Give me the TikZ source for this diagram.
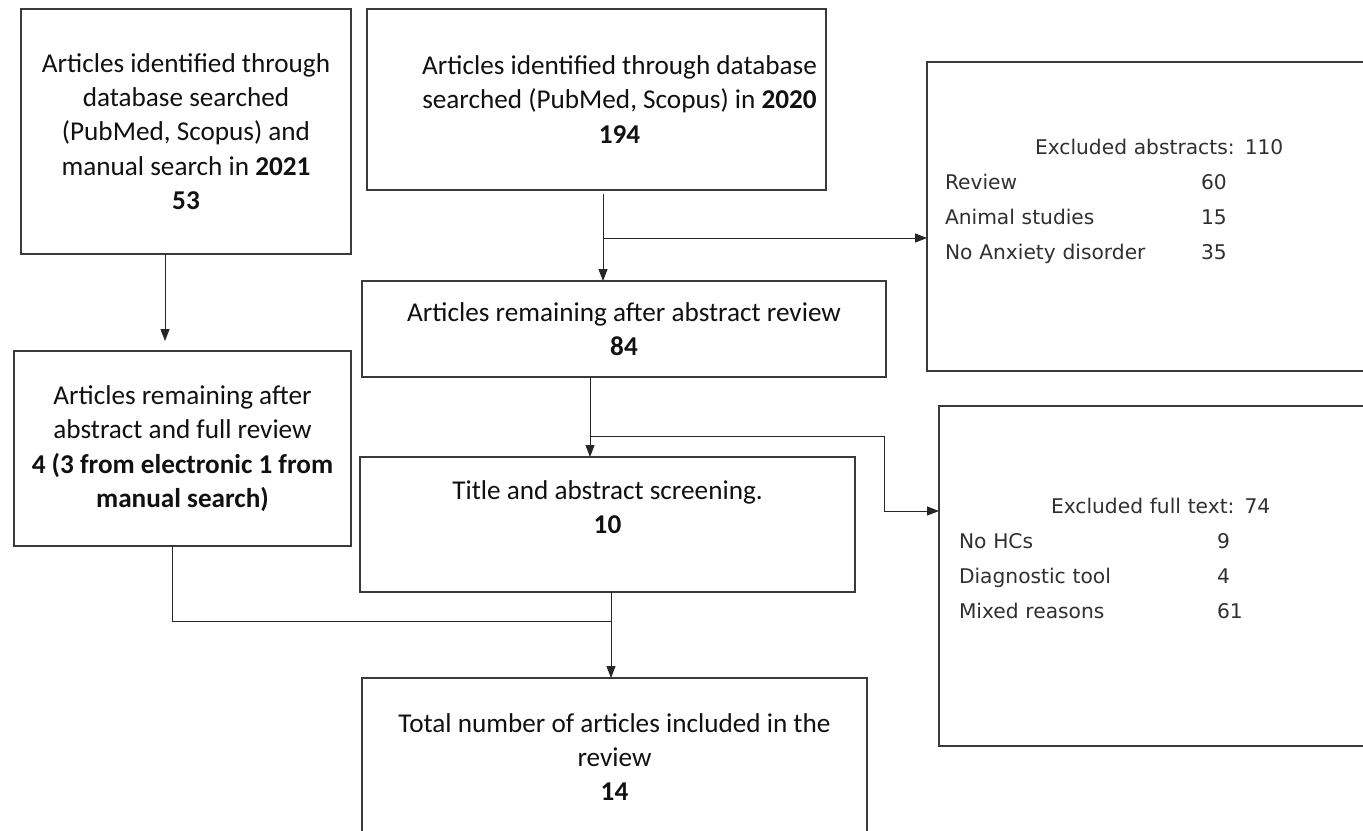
\documentclass[tikz,border=0pt]{standalone}
\usepackage{fontspec}
\usepackage{tikz}
\usepackage{xcolor}
\usetikzlibrary{arrows.meta}
\setmainfont{Carlito}
\newfontfamily\exFont{DejaVu Sans}
\definecolor{boxColor}{HTML}{3A3A3A}
\definecolor{linkColor}{HTML}{262626}
\definecolor{textColor}{HTML}{111111}
\definecolor{exTextColor}{HTML}{303030}
\def\textA{Articles identified through\\database searched\\(PubMed, Scopus) and\\manual search in \textbf{2021}\\\textbf{53}}
\def\textB{\hspace*{46bp}Articles identified through database\\\hspace*{46bp}searched (PubMed, Scopus) in \textbf{2020}\\\hspace*{46bp}\textbf{194}}
\def\textC{\hspace*{90bp}Excluded abstracts: 110\\
\makebox[256bp][l]{Review}60\\
\makebox[256bp][l]{Animal studies}15\\
\makebox[256bp][l]{No Anxiety disorder}35\\~}
\def\textD{\hspace*{92bp}Excluded full text: 74\\
\makebox[258bp][l]{No HCs}9\\
\makebox[258bp][l]{Diagnostic tool}4\\
\makebox[258bp][l]{Mixed reasons}61\\~}
\def\textE{Articles remaining after abstract review\\\textbf{84}}
\def\textF{Articles remaining after\\abstract and full review\\\textbf{4 (3 from electronic 1 from}\\\textbf{manual search)}}
\def\textG{Title and abstract screening.\\\textbf{10}\\~}
\def\textH{Total number of articles included in the\\review\\\textbf{14}}

\begin{document}
\begin{tikzpicture}[x=1bp,y=-1bp,
box/.style={draw=boxColor, line width=1.3bp, rectangle, anchor=north west,
outer sep=0pt, inner sep=0pt, align=center, text=textColor,
font=\fontsize{27.3}{34.5}\selectfont},
exbox/.style={box, align=left, inner xsep=18bp, text=exTextColor,
font=\exFont\fontsize{20.3}{35}\selectfont},
link/.style={draw=linkColor, line width=1bp},
linkArrow/.style={link, -{Triangle[length=12bp,width=9bp]}}]

% page
\fill[white] (0, 0) rectangle (1363, 830);
\useasboundingbox (0, 0) rectangle (1363, 830);

% box layer
\begin{scope}
\node[box, minimum width=330bp, minimum height=245bp] (artA) at (21, 9) {\textA};
\node[box, minimum width=459bp, minimum height=181bp] (artB) at (367, 9) {\textB};
\node[exbox, text width=414bp, minimum width=450bp, minimum height=309bp] (exA) at (927, 62) {\textC};
\node[exbox, inner xsep=20bp, text width=400bp, minimum width=440bp, minimum height=340bp] (exB) at (939, 406) {\textD};
\node[box, minimum width=524bp, minimum height=96bp] (remA) at (362, 281) {\textE};
\node[box, minimum width=337bp, minimum height=195bp] (remB) at (14, 351) {\textF};
\node[box, minimum width=495bp, minimum height=135bp] (screen) at (360, 457) {\textG};
\node[box, minimum width=505bp, minimum height=158bp] (total) at (362, 678) {\textH};
\end{scope}

% junctions
\coordinate (jB) at (603, 238);
\coordinate (jE) at (590, 436);
\coordinate (jEr) at (884, 436);
\coordinate (jD) at (884, 511);
\coordinate (jG) at (611, 621);
\coordinate (jF) at (172, 621);

% link layer
\begin{scope}
\draw[linkArrow, shorten >=10bp] ([xshift=-21bp]artA.south) coordinate (aOut) -- (aOut |- remB.north);
\draw[linkArrow, shorten <=4bp] (artB.south -| jB) -- (remA.north -| jB);
\draw[linkArrow] (jB) -- (jB -| exA.west);
\draw[linkArrow] (remA.south -| jE) -- (screen.north -| jE);
\draw[linkArrow] (jE) -- (jEr) -- (jD) -- (jD -| exB.west);
\draw[linkArrow] (screen.south -| jG) -- (total.north -| jG);
\draw[link] (remB.south -| jF) -- (jF) -- (jG);
\end{scope}

\end{tikzpicture}
\end{document}
